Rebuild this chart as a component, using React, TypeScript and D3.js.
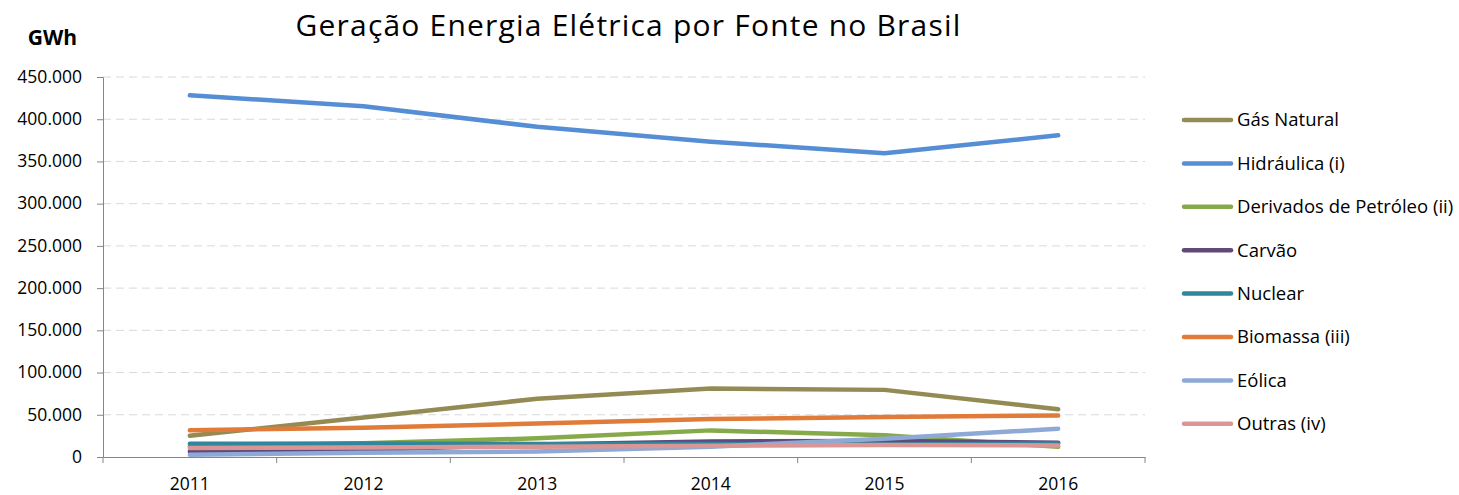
import React, { useEffect, useRef } from "react";
import * as d3 from "d3";

const years = ["2011", "2012", "2013", "2014", "2015", "2016"];
const yTicks = [0, 50000, 100000, 150000, 200000, 250000, 300000, 350000, 400000, 450000];

const seriesNames = [
  "Gás Natural",
  "Hidráulica (i)",
  "Derivados de Petróleo (ii)",
  "Carvão",
  "Nuclear",
  "Biomassa (iii)",
  "Eólica",
  "Outras (iv)",
];
const gasNatural = [25095, 46760, 69003, 81075, 79490, 56485];
const hidraulica = [428333, 415342, 390992, 373439, 359743, 380911];
const derivados = [12239, 16214, 22090, 31529, 25657, 12103];
const carvao = [6485, 8422, 14801, 18385, 18856, 17001];
const nuclear = [15659, 16038, 15450, 15378, 14734, 15864];
const biomassa = [31633, 34662, 39679, 44987, 47394, 49236];
const eolica = [2705, 5050, 6578, 12210, 21626, 33489];
const outras = [10609, 11366, 12241, 13362, 14127, 13754];
const seriesValues = [gasNatural, hidraulica, derivados, carvao, nuclear, biomassa, eolica, outras];
const seriesColors = ["#948A54", "#558ED5", "#86AA4A", "#604A7B", "#31859C", "#E07B39", "#8EA9D5", "#D99694"];

const W = 1459;
const H = 495;
const FONT = "'Open Sans', sans-serif";

export default function App() {
  const ref = useRef<SVGSVGElement>(null);
  useEffect(() => {
    const svg = d3.select(ref.current);
    svg.selectAll("*").remove();
    const left = 103, right = 1145, top = 77, bottom = 457;
    const x = d3.scaleBand<string>().domain(years).range([left, right]);
    const y = d3.scaleLinear().domain([0, 450000]).range([bottom, top]);
    const fmt = (v: number) => (v === 0 ? "0" : d3.format(",")(v).replace(/,/g, "."));

    // gridlines
    svg.append("g").selectAll("line").data(yTicks.filter((t) => t > 0)).join("line")
      .attr("x1", left).attr("x2", right)
      .attr("y1", (d) => y(d)).attr("y2", (d) => y(d))
      .attr("stroke", "#D9D9D9").attr("stroke-width", 1).attr("stroke-dasharray", "8,5");

    // y axis
    const gy = svg.append("g").attr("transform", `translate(${left},0)`)
      .call(d3.axisLeft(y).tickValues(yTicks).tickFormat((d) => fmt(d as number)).tickSize(6).tickPadding(15));
    gy.select(".domain").attr("stroke", "#868686");
    gy.selectAll(".tick line").attr("stroke", "#868686");
    gy.selectAll(".tick text").attr("font-family", FONT).attr("font-size", 17.5).attr("fill", "#000")
      .attr("dy", "0.3em");

    // x axis
    const gx = svg.append("g").attr("transform", `translate(0,${bottom})`)
      .call(d3.axisBottom(x).tickSize(0).tickPadding(21));
    gx.select(".domain").attr("stroke", "#868686");
    gx.selectAll(".tick text").attr("font-family", FONT).attr("font-size", 17.5).attr("fill", "#000");
    const bounds = [left, ...years.map((yr) => (x(yr) as number) + x.bandwidth())];
    svg.append("g").selectAll("line").data(bounds).join("line")
      .attr("x1", (d) => d).attr("x2", (d) => d)
      .attr("y1", bottom).attr("y2", bottom + 6)
      .attr("stroke", "#868686");

    // lines
    const line = d3.line<number>()
      .x((_, i) => (x(years[i]) as number) + x.bandwidth() / 2)
      .y((d) => y(d));
    seriesValues.forEach((vals, si) => {
      svg.append("path").attr("d", line(vals) as string)
        .attr("fill", "none").attr("stroke", seriesColors[si]).attr("stroke-width", 4.5)
        .attr("stroke-linecap", "round").attr("stroke-linejoin", "round");
    });

    // legend
    const lg = svg.append("g");
    seriesNames.forEach((name, i) => {
      const ly = 120 + i * 43.4;
      lg.append("line").attr("x1", 1184).attr("x2", 1231).attr("y1", ly).attr("y2", ly)
        .attr("stroke", seriesColors[i]).attr("stroke-width", 4.5).attr("stroke-linecap", "round");
      lg.append("text").attr("x", 1237).attr("y", ly).attr("dy", "0.35em")
        .attr("font-family", FONT).attr("font-size", 18.5).attr("fill", "#000").text(name);
    });

    // title + unit
    svg.append("text").attr("x", 628.5).attr("y", 36).attr("text-anchor", "middle")
      .attr("font-family", FONT).attr("font-size", 30).attr("letter-spacing", 1.2).attr("fill", "#000")
      .text("Geração Energia Elétrica por Fonte no Brasil");
    svg.append("text").attr("x", 52.5).attr("y", 45).attr("text-anchor", "middle")
      .attr("font-family", FONT).attr("font-size", 21).attr("font-weight", "bold").attr("fill", "#000")
      .text("GWh");
  }, []);
  return (
    <svg ref={ref} width={W} height={H} style={{ position: "absolute", left: 0, top: 0, background: "#fff" }} />
  );
}
